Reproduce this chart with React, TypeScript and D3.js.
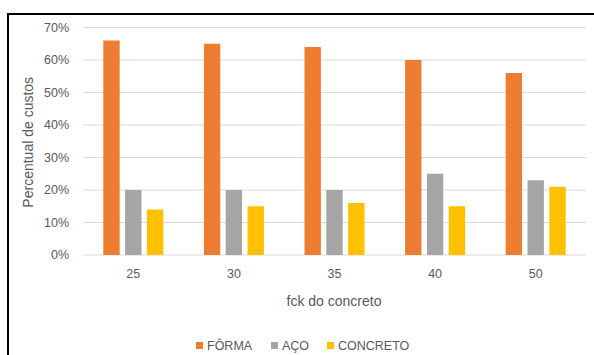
import React from "react";
import * as d3 from "d3";

const categories = ["25", "30", "35", "40", "50"];
const seriesNames = ["FÔRMA", "AÇO", "CONCRETO"];
const forma = [66, 65, 64, 60, 56];
const aco = [20, 20, 20, 25, 23];
const concreto = [14, 15, 16, 15, 21];
const yTicks = [0, 10, 20, 30, 40, 50, 60, 70];
const colors = ["#ED7D31", "#A5A5A5", "#FFC000"];

const W = 594;
const H = 355;
const plot = { left: 83, right: 586, top: 27.5, bottom: 255 };
const font = "'Liberation Sans', Arial, sans-serif";
const textColor = "#595959";
const groupWidth = 60;

export default function App() {
  const series = [forma, aco, concreto];
  const x = d3.scaleBand<string>().domain(categories).range([plot.left, plot.right]);
  const y = d3.scaleLinear().domain([0, 70]).range([plot.bottom, plot.top]);
  const inner = d3
    .scaleBand<number>()
    .domain([0, 1, 2])
    .range([0, groupWidth])
    .paddingInner(0.25);
  const groupOffset = (x.bandwidth() - groupWidth) / 2;

  const legendItems = [
    { x: 196, label: seriesNames[0] },
    { x: 271, label: seriesNames[1] },
    { x: 327, label: seriesNames[2] },
  ];

  return (
    <svg
      width={W}
      height={H}
      style={{ position: "absolute", left: 0, top: 0, background: "#fff" }}
    >
      {/* frame */}
      <rect x={8} y={14} width={W + 10} height={H + 10} fill="none" stroke="#000" strokeWidth={2} />

      {/* gridlines */}
      {yTicks.map((t) => (
        <line
          key={t}
          x1={plot.left}
          x2={plot.right}
          y1={y(t)}
          y2={y(t)}
          stroke="#D9D9D9"
          strokeWidth={1}
        />
      ))}

      {/* y tick labels */}
      {yTicks.map((t) => (
        <text
          key={t}
          x={69}
          y={y(t)}
          dy="0.35em"
          textAnchor="end"
          fontFamily={font}
          fontSize={12.5}
          fill={textColor}
        >
          {t}%
        </text>
      ))}

      {/* bars */}
      {categories.map((c, ci) =>
        series.map((s, si) => (
          <rect
            key={c + si}
            x={(x(c) as number) + groupOffset + (inner(si) as number)}
            y={y(s[ci])}
            width={inner.bandwidth()}
            height={plot.bottom - y(s[ci])}
            fill={colors[si]}
          />
        ))
      )}

      {/* x tick labels */}
      {categories.map((c) => (
        <text
          key={c}
          x={(x(c) as number) + x.bandwidth() / 2}
          y={278}
          textAnchor="middle"
          fontFamily={font}
          fontSize={12.5}
          fill={textColor}
        >
          {c}
        </text>
      ))}

      {/* axis titles */}
      <text
        x={334}
        y={306}
        textAnchor="middle"
        fontFamily={font}
        fontSize={14}
        fill={textColor}
      >
        fck do concreto
      </text>
      <text
        transform={`translate(33, ${(plot.top + plot.bottom) / 2 + 1}) rotate(-90)`}
        textAnchor="middle"
        fontFamily={font}
        fontSize={14}
        fill={textColor}
      >
        Percentual de custos
      </text>

      {/* legend */}
      {legendItems.map((it, i) => (
        <g key={it.label}>
          <rect x={it.x} y={342} width={7} height={7} fill={colors[i]} />
          <text
            x={it.x + 11}
            y={350}
            fontFamily={font}
            fontSize={12.5}
            fill={textColor}
          >
            {it.label}
          </text>
        </g>
      ))}
    </svg>
  );
}
